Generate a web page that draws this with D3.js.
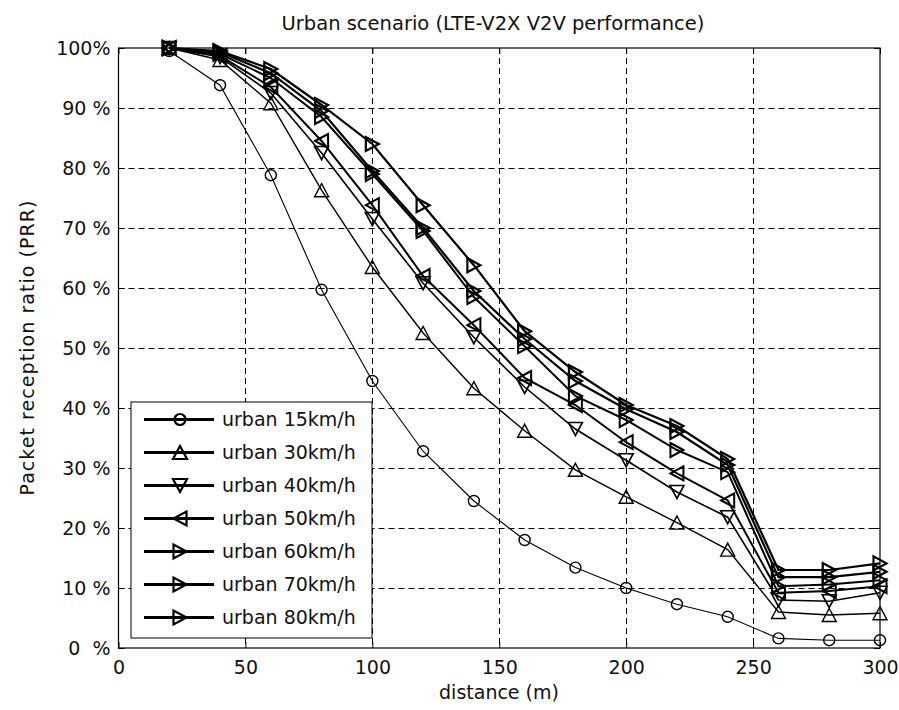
<!DOCTYPE html>
<html>
<head>
<meta charset="utf-8">
<script src="https://cdn.jsdelivr.net/npm/d3@7"></script>
<style>
  html, body { margin: 0; padding: 0; background: #fff; }
  svg { display: block; }
  text { font-family: "DejaVu Sans", sans-serif; fill: #111; }
</style>
</head>
<body>
<svg id="chart" width="899" height="710"></svg>
<script>
// ---- data ----
const distances = [20, 40, 60, 80, 100, 120, 140, 160, 180, 200, 220, 240, 260, 280, 300];
const prr15 = [99.5, 93.8, 78.8, 59.7, 44.5, 32.8, 24.5, 18.0, 13.4, 10.0, 7.3, 5.2, 1.6, 1.3, 1.3];
const prr30 = [100, 98.0, 90.8, 76.3, 63.5, 52.5, 43.3, 36.2, 29.7, 25.2, 20.9, 16.4, 6.0, 5.5, 5.8];
const prr40 = [100, 98.5, 92.5, 82.5, 71.5, 60.8, 51.8, 43.5, 36.5, 31.3, 26.0, 21.8, 8.0, 7.8, 9.2];
const prr50 = [100, 98.7, 93.5, 84.5, 73.8, 62.0, 53.8, 45.0, 40.5, 34.3, 29.1, 24.6, 9.2, 9.5, 10.3];
const prr60 = [100, 99.0, 95.0, 88.5, 79.0, 69.5, 58.5, 50.3, 42.0, 38.0, 33.0, 29.3, 10.3, 10.6, 11.3];
const prr70 = [100, 99.3, 95.8, 89.5, 79.5, 70.0, 59.5, 51.5, 44.5, 39.8, 36.0, 30.5, 11.8, 11.8, 12.7];
const prr80 = [100, 99.5, 96.5, 90.5, 84.0, 73.8, 63.8, 52.8, 46.0, 40.5, 37.0, 31.5, 13.0, 13.0, 14.1];
const seriesNames = ["urban 15km/h", "urban 30km/h", "urban 40km/h", "urban 50km/h", "urban 60km/h", "urban 70km/h", "urban 80km/h"];
const seriesMarkers = ["circle", "up", "down", "left", "right", "right", "right"];
const xTicks = [0, 50, 100, 150, 200, 250, 300];
const yTicks = [0, 10, 20, 30, 40, 50, 60, 70, 80, 90, 100];
const yTickLabels = ["0  %", "10 %", "20 %", "30 %", "40 %", "50 %", "60 %", "70 %", "80 %", "90 %", "100%"];
const titleText = "Urban scenario (LTE-V2X V2V performance)";
const xLabel = "distance (m)";
const yLabel = "Packet reception ratio (PRR)";

const seriesValues = [prr15, prr30, prr40, prr50, prr60, prr70, prr80];
const lineWidths = [1.1, 1.4, 1.6, 2, 2, 2.2, 2.2];

// ---- layout ----
const L = 118.5, R = 880, T = 48, B = 648;
const svg = d3.select("#chart");
const x = d3.scaleLinear().domain([0, 300]).range([L, R]);
const y = d3.scaleLinear().domain([0, 100]).range([B, T]);

// grid
const grid = svg.append("g").attr("stroke", "#000").attr("stroke-width", 1).attr("stroke-dasharray", "6,4");
xTicks.slice(1, -1).forEach(v => {
  grid.append("line").attr("x1", Math.round(x(v)) + 0.5).attr("x2", Math.round(x(v)) + 0.5)
    .attr("y1", T).attr("y2", B);
});
yTicks.slice(1, -1).forEach(v => {
  grid.append("line").attr("y1", Math.round(y(v)) + 0.5).attr("y2", Math.round(y(v)) + 0.5)
    .attr("x1", L).attr("x2", R);
});

// axes
const fs = 19;
const xAxisB = d3.axisBottom(x).tickValues(xTicks).tickSizeInner(-6).tickSizeOuter(0).tickPadding(13);
const gx = svg.append("g").attr("transform", `translate(0,${B})`).call(xAxisB);
gx.select(".domain").remove();
gx.selectAll("text").attr("font-size", fs).attr("font-family", "DejaVu Sans").attr("fill", "#111");
const xAxisT = d3.axisTop(x).tickValues(xTicks).tickSizeInner(-6).tickSizeOuter(0).tickFormat("");
const gxt = svg.append("g").attr("transform", `translate(0,${T})`).call(xAxisT);
gxt.select(".domain").remove();

const yAxisL = d3.axisLeft(y).tickValues(yTicks).tickSizeInner(-6).tickSizeOuter(0).tickPadding(8)
  .tickFormat((d, i) => yTickLabels[i]);
const gy = svg.append("g").attr("transform", `translate(${L},0)`).call(yAxisL);
gy.select(".domain").remove();
gy.selectAll("text").attr("font-size", fs).attr("font-family", "DejaVu Sans").attr("fill", "#111")
  .style("white-space", "pre").attr("dy", "0.36em");
const yAxisR = d3.axisRight(y).tickValues(yTicks).tickSizeInner(-6).tickSizeOuter(0).tickFormat("");
const gyr = svg.append("g").attr("transform", `translate(${R},0)`).call(yAxisR);
gyr.select(".domain").remove();
svg.selectAll(".tick line").attr("stroke", "#000");

// frame
svg.append("rect").attr("x", L).attr("y", T).attr("width", R - L).attr("height", B - T)
  .attr("fill", "none").attr("stroke", "#000").attr("stroke-width", 1.2);

// markers
function markerPath(type) {
  const s = 7, h = 6.5;
  switch (type) {
    case "up": return `M0,${-h}L${s},${h}L${-s},${h}Z`;
    case "down": return `M0,${h}L${s},${-h}L${-s},${-h}Z`;
    case "left": return `M${-h},0L${h},${-s}L${h},${s}Z`;
    case "right": return `M${h},0L${-h},${-s}L${-h},${s}Z`;
  }
  return null;
}
function drawMarker(g, type, cx, cy, sw) {
  if (type === "circle") {
    g.append("circle").attr("cx", cx).attr("cy", cy).attr("r", 5.5)
      .attr("fill", "none").attr("stroke", "#000").attr("stroke-width", sw);
  } else {
    g.append("path").attr("d", markerPath(type)).attr("transform", `translate(${cx},${cy})`)
      .attr("fill", "none").attr("stroke", "#000").attr("stroke-width", sw).attr("stroke-linejoin", "miter");
  }
}

const line = d3.line().x((d, i) => x(distances[i])).y(d => y(d));
const plot = svg.append("g");
seriesValues.forEach((vals, si) => {
  const g = plot.append("g");
  g.append("path").datum(vals).attr("d", line).attr("fill", "none")
    .attr("stroke", "#000").attr("stroke-width", lineWidths[si]);
  vals.forEach((v, i) => drawMarker(g, seriesMarkers[si], x(distances[i]), y(v), Math.max(1.4, lineWidths[si])));
});

// legend
const lg = svg.append("g");
lg.append("rect").attr("x", 131).attr("y", 402).attr("width", 241).attr("height", 236)
  .attr("fill", "#fff").attr("stroke", "#000").attr("stroke-width", 1);
seriesNames.forEach((name, i) => {
  const cy = 419.5 + i * 33;
  lg.append("line").attr("x1", 144).attr("x2", 214).attr("y1", cy).attr("y2", cy)
    .attr("stroke", "#000").attr("stroke-width", 2.8);
  drawMarker(lg, seriesMarkers[i], 180, cy, 2.2);
  lg.append("text").attr("x", 222).attr("y", cy).attr("dy", "0.36em")
    .attr("font-size", fs).text(name);
});

// labels
svg.append("text").attr("x", 493).attr("y", 23).attr("dy", "0.36em").attr("text-anchor", "middle")
  .attr("font-size", 19.5).text(titleText);
svg.append("text").attr("x", 499).attr("y", 692).attr("dy", "0.36em").attr("text-anchor", "middle")
  .attr("font-size", fs).text(xLabel);
svg.append("text").attr("transform", "translate(27,348) rotate(-90)").attr("dy", "0.36em")
  .attr("text-anchor", "middle").attr("font-size", fs).attr("textLength", 295).attr("lengthAdjust", "spacing")
  .text(yLabel);
</script>
</body>
</html>
